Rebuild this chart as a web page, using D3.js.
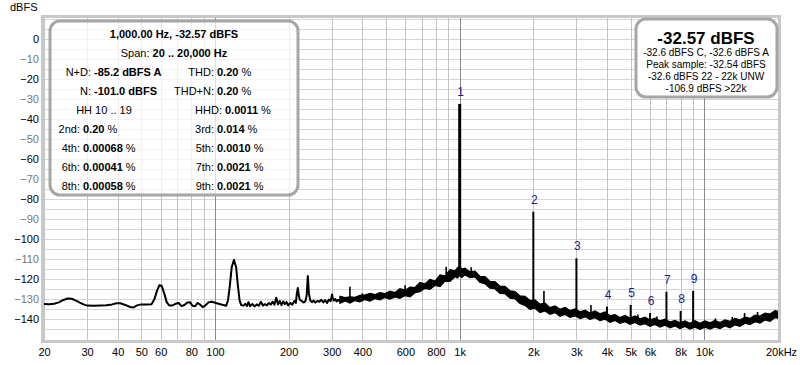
<!DOCTYPE html>
<html>
<head>
<meta charset="utf-8">
<script src="https://cdn.jsdelivr.net/npm/d3@7"></script>
<style>
body { margin: 0; background: #fff; }
svg { display: block; }
text { font-family: Arial, "Liberation Sans", sans-serif; }
</style>
</head>
<body>
<script>
// axis ticks
var yTickVals = [0, -10, -20, -30, -40, -50, -60, -70, -80, -90, -100, -110, -120, -130, -140]
var xTickVals = [20, 30, 40, 50, 60, 80, 100, 200, 300, 400, 600, 800, 1000, 2000, 3000, 4000, 5000, 6000, 8000, 10000, 20000]
var xTickLabels = ["20", "30", "40", "50", "60", "80", "100", "200", "300", "400", "600", "800", "1k", "2k", "3k", "4k", "5k", "6k", "8k", "10k", "20kHz"]

// low frequency part of the spectrum (thin trace), Hz / dBFS
var lowFreq = [20, 21, 22, 23, 24, 25, 26, 27, 28, 29, 30, 32, 34, 36, 38, 39.5, 41, 43, 45, 46.5, 48, 50, 53, 55, 56.5, 58, 59.3, 60.5, 62, 63.5, 65, 67, 69, 71, 73, 75, 77, 79, 81, 83, 85, 87, 89, 91, 94, 97, 101, 105, 108, 111, 113, 115, 117, 119.5, 122, 124, 126, 128, 131, 133, 135, 137, 139, 142, 145, 148, 151, 154, 157, 160, 163, 166, 169, 172, 175, 178, 181, 184, 187, 190, 193, 196, 199, 203, 207, 211, 214, 216, 218, 220, 222, 226, 230, 234, 237, 239.5, 242, 245, 249, 253, 257, 262, 267, 272, 277, 282, 287, 292, 297, 299, 301, 303, 306, 310, 314, 318, 322, 326, 330]
var lowDb = [-132.3, -132.4, -132.2, -131.5, -130.3, -129.6, -129.7, -130.6, -131.6, -132.5, -133.1, -133.2, -133, -132.9, -132.5, -131.9, -131.9, -132.8, -133.8, -134, -133, -132.5, -132.6, -132.4, -130, -125.5, -122.9, -123.2, -127, -131.5, -133, -133, -132.2, -131.8, -133.4, -132.8, -131.6, -131.4, -133.2, -133.4, -131.8, -132.6, -133.8, -133.2, -131.5, -131.2, -131.8, -132.4, -132.8, -133.2, -130.5, -123, -114, -110.4, -114, -123, -130.5, -132.9, -133, -132.2, -133.3, -131.4, -133.4, -132.3, -133.5, -132.5, -133.2, -131.2, -133.1, -132.4, -133, -131.8, -132.6, -131.2, -132.6, -129.2, -132.5, -130.8, -132.9, -131, -132.4, -131.3, -133, -131.8, -132.6, -130.8, -131.8, -127, -124.3, -128, -130.2, -130.8, -131.6, -130.9, -128, -118.3, -127, -130.5, -131.4, -130.6, -131.6, -130.8, -131.2, -130.2, -131.5, -130.4, -131.8, -130.1, -130.9, -129, -127.5, -129.5, -130.6, -129.8, -131, -130.2, -130.8, -129.6, -130.5]

// noise floor band above ~320 Hz: upper and lower edge, dBFS
var bandFreq = [324, 340, 356, 373, 391, 410, 430, 451, 472, 495, 519, 544, 570, 598, 627, 657, 688, 721, 756, 793, 831, 871, 913, 957, 980, 1000, 1020, 1051, 1102, 1155, 1211, 1269, 1330, 1394, 1461, 1532, 1606, 1683, 1764, 1849, 1938, 2032, 2130, 2233, 2340, 2453, 2571, 2695, 2825, 2961, 3103, 3253, 3409, 3573, 3745, 3926, 4115, 4313, 4521, 4739, 4967, 5206, 5458, 5720, 5996, 6285, 6588, 6905, 7238, 7586, 7952, 8335, 8736, 9157, 9599, 10061, 10546, 11054, 11587, 12146, 12731, 13344, 13987, 14661, 15368, 16109, 16885, 17699, 18552, 19446, 20000]
var bandHi = [-128.5, -129.1, -128.7, -129.0, -128.0, -127.8, -127.0, -127.6, -126.6, -127.1, -125.9, -126.6, -124.7, -125.4, -123.9, -124.1, -121.6, -122.3, -120.0, -120.9, -117.8, -118.3, -115.2, -115.8, -114.2, -113.6, -114.9, -114.4, -116.3, -115.9, -118.6, -118.7, -121.0, -121.1, -123.4, -123.5, -125.7, -126.1, -128.3, -128.5, -130.6, -130.3, -132.4, -131.9, -134.1, -133.2, -134.9, -134.0, -135.6, -134.8, -136.2, -135.4, -136.8, -135.8, -137.2, -136.2, -138.1, -137.6, -139.1, -138.0, -139.3, -138.2, -139.7, -138.9, -140.3, -139.4, -140.7, -139.9, -141.3, -140.5, -141.7, -140.7, -141.9, -140.6, -141.9, -140.7, -141.7, -140.5, -141.5, -140.2, -140.9, -139.5, -140.3, -138.8, -139.5, -137.8, -138.3, -136.8, -137.3, -135.6, -136.0]
var bandLo = [-132.0, -130.8, -131.9, -130.6, -131.3, -130.1, -130.9, -129.6, -130.3, -129.1, -129.9, -128.8, -129.5, -128.1, -128.7, -126.7, -126.2, -124.5, -125.0, -123.1, -123.6, -120.9, -121.0, -118.7, -119.3, -118.0, -119.1, -117.8, -119.2, -118.8, -121.6, -122.2, -124.4, -124.7, -127.0, -127.2, -129.4, -129.7, -132.0, -133.0, -135.0, -134.4, -136.6, -135.8, -137.4, -136.6, -138.4, -137.5, -139.0, -138.2, -139.6, -138.7, -140.0, -139.1, -140.6, -139.9, -141.4, -140.5, -141.9, -141.1, -142.4, -141.5, -142.8, -142.1, -143.4, -142.5, -143.8, -142.9, -144.2, -143.3, -144.6, -143.5, -144.8, -143.9, -145.0, -143.9, -144.8, -143.7, -144.6, -143.3, -144.2, -142.7, -143.4, -141.9, -142.6, -141.1, -141.8, -140.3, -140.9, -139.1, -139.4]

// small spurs sticking out of the noise band
var spurFreq = [356, 400, 598, 881, 1114, 2210, 3440, 5350, 6400, 11100, 13000, 14600, 16500]
var spurTop = [-123.7, -127.0, -123.0, -113.8, -114.0, -125.8, -132.8, -137.5, -138.5, -139.5, -138.8, -136.8, -136.3]
var spurBase = [-129.5, -129.5, -127.5, -121, -118.5, -134.5, -138.5, -141, -142, -143, -142, -141.5, -140.5]

// fundamental and harmonics
var harmFreq = [1000, 2000, 3000, 4000, 5000, 6000, 7000, 8000, 9000]
var harmDb = [-32.57, -86.3, -109.5, -133.6, -132.8, -136.8, -126.2, -135.8, -125.8]
var harmBase = [-116, -133, -137.5, -140.5, -141, -142.5, -143, -143.5, -143.8]
var harmLabel = ["1", "2", "3", "4", "5", "6", "7", "8", "9"]

// readouts
var leftLabels = ["N+D:", "N:", "", "2nd:", "4th:", "6th:", "8th:"]
var leftValues = ["-85.2 dBFS A", "-101.0 dBFS", "HH 10 .. 19", "0.20", "0.00068", "0.00041", "0.00058"]
var rightLabels = ["THD:", "THD+N:", "HHD:", "3rd:", "5th:", "7th:", "9th:"]
var rightValues = ["0.20", "0.20", "0.0011", "0.014", "0.0010", "0.0021", "0.0021"]
var bigReadout = "-32.57 dBFS"
var smallReadout = ["-32.6 dBFS C, -32.6 dBFS A", "Peak sample: -32.54 dBFS", "-32.6 dBFS 22 - 22k UNW", "-106.9 dBFS >22k"]

var W = 800, H = 365
var svg = d3.select("body").append("svg").attr("width", W).attr("height", H)

var x = d3.scaleLog().domain([20, 20000]).range([44, 778])
var y = d3.scaleLinear().domain([10, -150]).range([18.5, 339.5])

// frame
svg.append("rect")
    .attr("x", 42.5).attr("y", 16.5).attr("width", 737).attr("height", 325)
    .attr("fill", "#fff").attr("stroke", "#c8c8c8").attr("stroke-width", 3)

svg.append("clipPath").attr("id", "plot")
    .append("rect").attr("x", 44).attr("y", 18).attr("width", 734).attr("height", 322)

var grid = svg.append("g").attr("clip-path", "url(#plot)")
grid.selectAll(".hg").data(y.ticks(32)).enter().append("line")
    .attr("x1", 44).attr("x2", 778)
    .attr("y1", d => Math.round(y(d)) + 0.5).attr("y2", d => Math.round(y(d)) + 0.5)
    .attr("stroke", "#d6d6d6")
grid.selectAll(".vg").data(x.ticks()).enter().append("line")
    .attr("x1", d => Math.round(x(d)) + 0.5).attr("x2", d => Math.round(x(d)) + 0.5)
    .attr("y1", 18).attr("y2", 340)
    .attr("stroke", d => [100, 1000, 10000].indexOf(d) >= 0 ? "#8a8a8a" : "#c4c4c4")

// spectrum
var plot = svg.append("g").attr("clip-path", "url(#plot)")

var band = bandFreq.map((f, i) => ({f: f, hi: bandHi[i], lo: bandLo[i]}))
plot.append("path").datum(band)
    .attr("d", d3.area().x(d => x(d.f)).y0(d => y(d.lo)).y1(d => y(d.hi)))
    .attr("fill", "#000").attr("stroke", "#000").attr("stroke-width", 1.2)
    .attr("stroke-linejoin", "miter")

var low = lowFreq.map((f, i) => ({f: f, db: lowDb[i]}))
plot.append("path").datum(low)
    .attr("d", d3.line().x(d => x(d.f)).y(d => y(d.db)))
    .attr("fill", "none").attr("stroke", "#000").attr("stroke-width", 2)
    .attr("stroke-linejoin", "round")

plot.selectAll(".spur").data(spurFreq).enter().append("line")
    .attr("x1", d => x(d)).attr("x2", d => x(d))
    .attr("y1", (d, i) => y(spurTop[i])).attr("y2", (d, i) => y(spurBase[i]))
    .attr("stroke", "#000").attr("stroke-width", 1.6)

plot.selectAll(".harm").data(harmFreq).enter().append("line")
    .attr("x1", d => x(d)).attr("x2", d => x(d))
    .attr("y1", (d, i) => y(harmDb[i])).attr("y2", (d, i) => y(harmBase[i]))
    .attr("stroke", "#000").attr("stroke-width", (d, i) => i == 0 ? 3 : 2)

svg.selectAll(".hl").data(harmFreq).enter().append("text")
    .attr("x", d => x(d) + 1).attr("y", (d, i) => y(harmDb[i]) - 8)
    .attr("text-anchor", "middle").attr("font-size", "12px").attr("fill", "#1a1a88")
    .text((d, i) => harmLabel[i])

// axes
var yAxis = svg.append("g").attr("transform", "translate(44,0)")
    .call(d3.axisLeft(y).tickValues(yTickVals).tickSize(0).tickPadding(5))
yAxis.select(".domain").remove()
yAxis.selectAll("text").attr("font-size", "11px").attr("font-family", null)
    .attr("fill", d => d % 20 == 0 ? "#000" : "#777")

var xAxis = svg.append("g").attr("transform", "translate(0,340)")
    .call(d3.axisBottom(x).tickValues(xTickVals).tickFormat((d, i) => xTickLabels[i]).tickSize(0).tickPadding(8))
xAxis.select(".domain").remove()
xAxis.selectAll("text").attr("font-size", "11px").attr("font-family", null).attr("fill", "#000")
xAxis.selectAll("text").filter(d => d == 20000).attr("dx", 3)

svg.append("text").attr("x", 10).attr("y", 11).attr("font-size", "11px").text("dBFS")

// left readout box
svg.append("rect").attr("x", 50).attr("y", 21).attr("width", 248).attr("height", 174)
    .attr("rx", 10).attr("fill", "rgba(255,255,255,0.72)")
    .attr("stroke", "#a6a6a6").attr("stroke-width", 3)

var box = svg.append("g").attr("font-size", "11px")
box.append("text").attr("x", 174).attr("y", 38).attr("text-anchor", "middle")
    .attr("font-weight", "bold").text("1,000.00 Hz, -32.57 dBFS")
var span = box.append("text").attr("x", 174).attr("y", 57).attr("text-anchor", "middle")
span.append("tspan").text("Span: ")
span.append("tspan").attr("font-weight", "bold").text("20 .. 20,000 Hz")

var leftEnd = [91, 91, 0, 80, 80, 80, 80]
var rightEnd = [214, 214, 222, 214, 214, 214, 214]
leftLabels.forEach(function(lab, i) {
    var yy = 76 + i * 19
    if (lab == "") {
        box.append("text").attr("x", 104).attr("y", yy).attr("text-anchor", "middle").text(leftValues[i])
    } else {
        box.append("text").attr("x", leftEnd[i]).attr("y", yy).attr("text-anchor", "end").text(lab)
        var t = box.append("text").attr("x", leftEnd[i] + 3).attr("y", yy)
        t.append("tspan").attr("font-weight", "bold").text(leftValues[i])
        if (i >= 3) t.append("tspan").text(" %")
    }
    box.append("text").attr("x", rightEnd[i]).attr("y", yy).attr("text-anchor", "end").text(rightLabels[i])
    var r = box.append("text").attr("x", rightEnd[i] + 3).attr("y", yy)
    r.append("tspan").attr("font-weight", "bold").text(rightValues[i])
    r.append("tspan").text(" %")
})

// right readout box
svg.append("rect").attr("x", 636).attr("y", 19).attr("width", 141).attr("height", 78)
    .attr("rx", 10).attr("fill", "#fff")
    .attr("stroke", "#a6a6a6").attr("stroke-width", 3)
svg.append("text").attr("x", 706).attr("y", 44).attr("text-anchor", "middle")
    .attr("font-size", "17px").attr("font-weight", "bold").text(bigReadout)
svg.selectAll(".sr").data(smallReadout).enter().append("text")
    .attr("x", 706).attr("y", (d, i) => 56 + i * 12).attr("text-anchor", "middle")
    .attr("font-size", "10px").text(d => d)
</script>
</body>
</html>
